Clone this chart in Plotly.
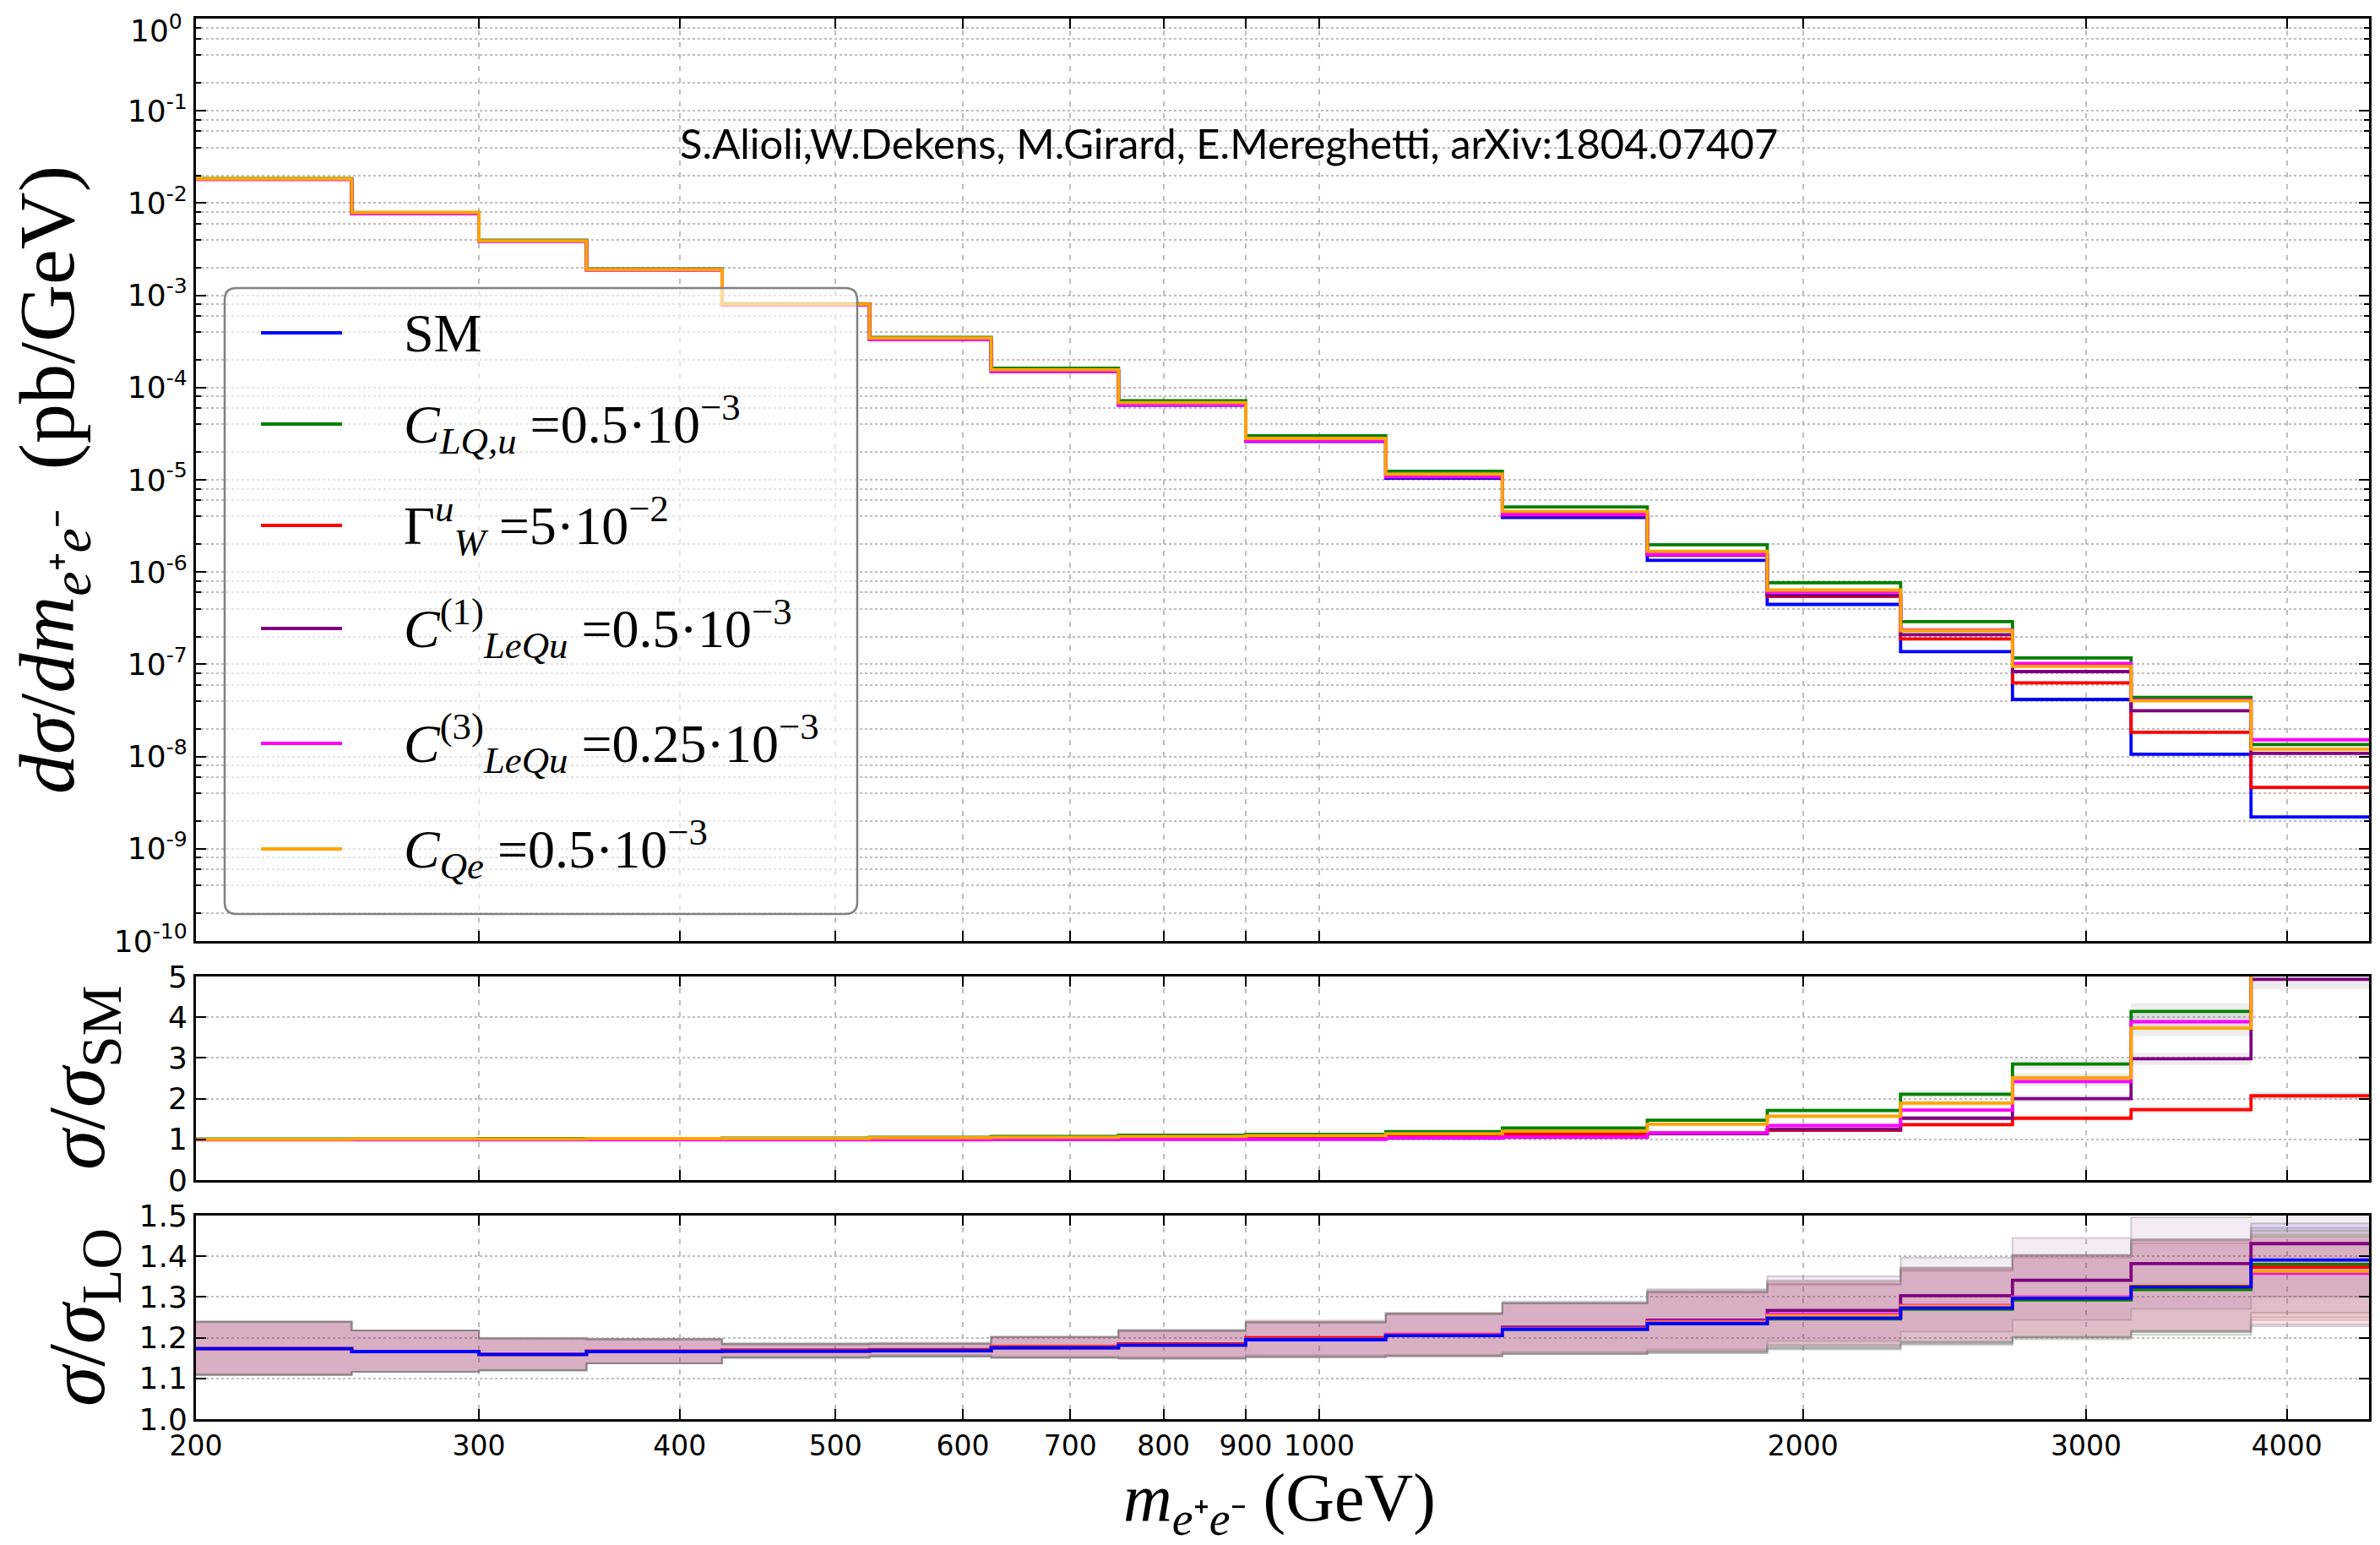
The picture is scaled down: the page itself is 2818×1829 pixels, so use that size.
import plotly.graph_objects as go

# ---------------- data ----------------
edges = [200, 250, 300, 350, 425, 525, 625, 750, 900, 1100, 1300, 1600, 1900, 2300, 2700, 3200, 3800, 4500]

series_names = [
    "SM",
    "<i>C</i><sub><i>LQ,u</i></sub> =0.5·10<sup>−3</sup>",
    "Γ<sup><i>u</i></sup><sub><i>W</i></sub> =5·10<sup>−2</sup>",
    "<i>C</i><sup>(1)</sup><sub><i>LeQu</i></sub> =0.5·10<sup>−3</sup>",
    "<i>C</i><sup>(3)</sup><sub><i>LeQu</i></sub> =0.25·10<sup>−3</sup>",
    "<i>C</i><sub><i>Qe</i></sub> =0.5·10<sup>−3</sup>",
]
series_colors = ["#0000ff", "#008000", "#ff0000", "#800080", "#ff00ff", "#ffa500"]

# top panel: dsigma/dm (pb/GeV)
dsig_sm = [0.0182, 0.0078, 0.0039, 0.0019, 8.0e-4, 3.35e-4, 1.5e-4, 6.45e-5, 2.6e-5, 1.04e-5, 3.9e-6, 1.34e-6, 4.46e-7, 1.37e-7, 4.16e-8, 1.06e-8, 2.21e-9]
dsig_clqu = [0.0184, 0.0079, 0.00395, 0.00193, 8.1e-4, 3.5e-4, 1.62e-4, 7.2e-5, 3.0e-5, 1.24e-5, 5.09e-6, 1.98e-6, 7.66e-7, 2.9e-7, 1.17e-7, 4.36e-8, 1.35e-8]
dsig_gw = [0.0182, 0.0078, 0.0039, 0.0019, 8.0e-4, 3.36e-4, 1.52e-4, 6.7e-5, 2.74e-5, 1.13e-5, 4.35e-6, 1.55e-6, 5.45e-7, 1.88e-7, 6.3e-8, 1.83e-8, 4.62e-9]
dsig_c1 = [0.0181, 0.0077, 0.00385, 0.00188, 7.9e-4, 3.33e-4, 1.5e-4, 6.5e-5, 2.63e-5, 1.07e-5, 4.1e-6, 1.52e-6, 5.58e-7, 2.09e-7, 8.34e-8, 3.14e-8, 1.08e-8]
dsig_c3 = [0.0181, 0.0077, 0.00385, 0.00188, 7.9e-4, 3.32e-4, 1.5e-4, 6.5e-5, 2.65e-5, 1.08e-5, 4.2e-6, 1.55e-6, 6.08e-7, 2.36e-7, 1.02e-7, 4.1e-8, 1.52e-8]
dsig_cqe = [0.0183, 0.0079, 0.0039, 0.0019, 8.0e-4, 3.45e-4, 1.56e-4, 6.86e-5, 2.81e-5, 1.15e-5, 4.55e-6, 1.68e-6, 6.38e-7, 2.32e-7, 9.5e-8, 4.02e-8, 1.2e-8]

# middle panel: sigma / sigma_SM (SM itself not drawn)
rsm_clqu = [1.01, 1.01, 1.02, 1.02, 1.03, 1.05, 1.07, 1.10, 1.12, 1.19, 1.28, 1.47, 1.71, 2.11, 2.85, 4.14, 6.3]
rsm_gw = [1.0, 1.0, 1.0, 1.0, 1.01, 1.01, 1.02, 1.04, 1.06, 1.09, 1.12, 1.16, 1.22, 1.36, 1.52, 1.73, 2.07]
rsm_c1 = [1.0, 1.0, 1.0, 1.0, 1.0, 1.0, 1.0, 1.01, 1.01, 1.03, 1.05, 1.14, 1.25, 1.52, 2.0, 2.98, 4.93]
rsm_c3 = [0.99, 0.99, 0.99, 0.99, 0.99, 0.99, 1.0, 1.0, 1.0, 1.04, 1.06, 1.16, 1.34, 1.72, 2.42, 3.89, 6.9]
rsm_cqe = [1.0, 1.01, 1.01, 1.02, 1.02, 1.04, 1.05, 1.07, 1.09, 1.14, 1.20, 1.37, 1.57, 1.89, 2.51, 3.73, 5.4]

# lower panel: sigma / sigma_LO
k_sm = [1.173, 1.166, 1.159, 1.166, 1.167, 1.168, 1.175, 1.182, 1.195, 1.205, 1.221, 1.235, 1.248, 1.273, 1.297, 1.325, 1.391]
k_clqu = [1.173, 1.166, 1.159, 1.166, 1.167, 1.168, 1.175, 1.182, 1.195, 1.205, 1.221, 1.234, 1.246, 1.270, 1.293, 1.318, 1.380]
k_gw = [1.173, 1.166, 1.160, 1.167, 1.170, 1.171, 1.178, 1.185, 1.200, 1.208, 1.222, 1.237, 1.250, 1.275, 1.298, 1.325, 1.373]
k_c1 = [1.173, 1.166, 1.159, 1.166, 1.167, 1.168, 1.175, 1.183, 1.197, 1.207, 1.226, 1.243, 1.267, 1.303, 1.341, 1.382, 1.431]
k_c3 = [1.173, 1.166, 1.159, 1.166, 1.167, 1.168, 1.175, 1.182, 1.196, 1.207, 1.223, 1.240, 1.257, 1.279, 1.300, 1.328, 1.358]
k_cqe = [1.173, 1.166, 1.159, 1.166, 1.167, 1.168, 1.175, 1.182, 1.196, 1.206, 1.222, 1.238, 1.254, 1.277, 1.298, 1.328, 1.363]

# scale-uncertainty band offsets for sigma/sigma_LO (absolute, below / above central)
k_band_lo = [0.064, 0.050, 0.039, 0.029, 0.016, 0.014, 0.024, 0.033, 0.043, 0.051, 0.061, 0.072, 0.075, 0.088, 0.097, 0.111, 0.130]
k_band_hi = [0.066, 0.052, 0.039, 0.030, 0.017, 0.017, 0.026, 0.035, 0.042, 0.053, 0.063, 0.076, 0.084, 0.094, 0.104, 0.114, 0.090]
# relative band half width in the top and middle panels
rel_band = [0.01, 0.01, 0.01, 0.01, 0.01, 0.015, 0.015, 0.02, 0.02, 0.025, 0.03, 0.03, 0.035, 0.04, 0.045, 0.05, 0.05]

y_tickvals = [10.0 ** e for e in range(-10, 1)]
y_ticktext = ["10<sup>%d</sup>" % e for e in range(-10, 0)] + [""]
y_top_label = "10<sup>0</sup>"
x_tickvals = [200, 300, 400, 500, 600, 700, 800, 900, 1000, 2000, 3000, 4000]
x_ticktext = ["200", "300", "400", "500", "600", "700", "800", "900", "1000", "2000", "3000", "4000"]

title_text = "S.Alioli,W.Dekens, M.Girard, E.Mereghetti, arXiv:1804.07407"

dsig = [dsig_sm, dsig_clqu, dsig_gw, dsig_c1, dsig_c3, dsig_cqe]
rsm = [None, rsm_clqu, rsm_gw, rsm_c1, rsm_c3, rsm_cqe]
kfac = [k_sm, k_clqu, k_gw, k_c1, k_c3, k_cqe]

# ---------------- figure ----------------
W, H = 2818, 1829
fig = go.Figure()


def step(v):
    return list(v) + [v[-1]]


def rgba(hexc, a):
    h = hexc.lstrip("#")
    return "rgba(%d,%d,%d,%.3f)" % (int(h[0:2], 16), int(h[2:4], 16), int(h[4:6], 16), a)


band_gray = "rgba(128,128,128,0.14)"

# top panel bands + lines
for i in range(6):
    lo = [v * (1 - r) for v, r in zip(dsig[i], rel_band)]
    hi = [v * (1 + r) for v, r in zip(dsig[i], rel_band)]
    fig.add_trace(go.Scatter(x=edges, y=step(lo), mode="lines", line=dict(width=0, shape="hv"),
                             showlegend=False, hoverinfo="skip", xaxis="x", yaxis="y"))
    fig.add_trace(go.Scatter(x=edges, y=step(hi), mode="lines", line=dict(width=0, shape="hv"),
                             fill="tonexty", fillcolor=band_gray, showlegend=False, hoverinfo="skip",
                             xaxis="x", yaxis="y"))
for i in range(6):
    fig.add_trace(go.Scatter(x=edges, y=step(dsig[i]), mode="lines", name=series_names[i],
                             showlegend=False,
                             line=dict(color=series_colors[i], width=3.8, shape="hv"),
                             xaxis="x", yaxis="y"))

# middle panel
for i in range(1, 6):
    lo = [v * (1 - r) for v, r in zip(rsm[i], rel_band)]
    hi = [v * (1 + r) for v, r in zip(rsm[i], rel_band)]
    fig.add_trace(go.Scatter(x=edges, y=step(lo), mode="lines", line=dict(width=0, shape="hv"),
                             showlegend=False, hoverinfo="skip", xaxis="x2", yaxis="y2"))
    fig.add_trace(go.Scatter(x=edges, y=step(hi), mode="lines", line=dict(width=0, shape="hv"),
                             fill="tonexty", fillcolor=band_gray, showlegend=False, hoverinfo="skip",
                             xaxis="x2", yaxis="y2"))
for i in range(1, 6):
    fig.add_trace(go.Scatter(x=edges, y=step(rsm[i]), mode="lines", showlegend=False,
                             name=series_names[i],
                             line=dict(color=series_colors[i], width=3.8, shape="hv"),
                             xaxis="x2", yaxis="y2"))

# lower panel
for i in range(6):
    lo = [v - d for v, d in zip(kfac[i], k_band_lo)]
    hi = [v + d for v, d in zip(kfac[i], k_band_hi)]
    fig.add_trace(go.Scatter(x=edges, y=step(lo), mode="lines",
                             line=dict(width=2, shape="hv", color="rgba(128,128,128,0.35)"),
                             showlegend=False, hoverinfo="skip", xaxis="x3", yaxis="y3"))
    fig.add_trace(go.Scatter(x=edges, y=step(hi), mode="lines",
                             line=dict(width=2, shape="hv", color="rgba(128,128,128,0.35)"),
                             fill="tonexty", fillcolor=rgba(series_colors[i], 0.08),
                             showlegend=False, hoverinfo="skip", xaxis="x3", yaxis="y3"))
for i in [1, 2, 3, 4, 5, 0]:
    fig.add_trace(go.Scatter(x=edges, y=step(kfac[i]), mode="lines", showlegend=False,
                             name=series_names[i],
                             line=dict(color=series_colors[i], width=3.8, shape="hv"),
                             xaxis="x3", yaxis="y3"))

# ---------------- layout ----------------
tick_font = dict(family="DejaVu Sans", size=36, color="black")
xtick_font = dict(family="DejaVu Sans", size=33, color="black")
grid_col = "#bdbdbd"
xdom = [232 / W, 2805 / W]


def pdom(top_px, bot_px):
    return [1 - bot_px / H, 1 - top_px / H]


xcommon = dict(type="log", range=[2.30103, 3.65321], domain=xdom, showline=True, linewidth=3,
               linecolor="black", mirror="ticks", ticks="inside", ticklen=12, tickwidth=2,
               tickcolor="black", tickmode="array", tickvals=x_tickvals, ticktext=x_ticktext,
               showgrid=True, gridcolor=grid_col, gridwidth=1.5, griddash="6px,8px",
               zeroline=False, tickfont=xtick_font, automargin=False, ticklabeloverflow="allow")

ycommon = dict(showline=True, linewidth=3, linecolor="black", mirror="ticks", ticks="inside",
               ticklen=12, tickwidth=2, tickcolor="black", showgrid=True, gridcolor=grid_col,
               gridwidth=1.5, griddash="dot", zeroline=False, tickfont=tick_font, automargin=False,
               ticklabeloverflow="allow")

minor_vals = [m * 10.0 ** e for e in range(-10, 0) for m in (2, 4, 6, 8)]

fig.update_layout(
    width=W, height=H, margin=dict(l=0, r=0, t=0, b=0, autoexpand=False),
    paper_bgcolor="white", plot_bgcolor="white", showlegend=False,
    xaxis=dict(xcommon, anchor="y", showticklabels=False),
    xaxis2=dict(xcommon, anchor="y2", matches="x", showticklabels=False),
    xaxis3=dict(xcommon, anchor="y3", matches="x", showticklabels=True),
    yaxis=dict(ycommon, type="log", range=[-10, 0], domain=pdom(22, 1114), anchor="x",
               tickmode="array", tickvals=y_tickvals, ticktext=y_ticktext,
               minor=dict(tickmode="array", tickvals=minor_vals, ticks="inside", ticklen=6,
                          tickwidth=1.5, tickcolor="black", showgrid=True, gridcolor=grid_col,
                          gridwidth=1.5, griddash="dot")),
    yaxis2=dict(ycommon, range=[0, 5], domain=pdom(1156, 1397), anchor="x2",
                tickmode="array", tickvals=[0, 1, 2, 3, 4, 5], ticktext=["0", "1", "2", "3", "4", "5"]),
    yaxis3=dict(ycommon, range=[1.0, 1.5], domain=pdom(1439, 1680), anchor="x3",
                tickmode="array", tickvals=[1.0, 1.1, 1.2, 1.3, 1.4, 1.5],
                ticktext=["1.0", "1.1", "1.2", "1.3", "1.4", "1.5"]),
)

# ---- legend box (drawn as shapes + text) ----
def px(x):
    return x / W


def py(y):
    return 1 - y / H


bx0, bx1, by0, by1, rad = 266, 1015, 341, 1082, 14
path = ("M {a},{b} L {c},{b} Q {d},{b} {d},{e} L {d},{f} Q {d},{g} {c},{g} "
        "L {a},{g} Q {h},{g} {h},{f} L {h},{e} Q {h},{b} {a},{b} Z").format(
    a=px(bx0 + rad), b=py(by0), c=px(bx1 - rad), d=px(bx1), e=py(by0 + rad),
    f=py(by1 - rad), g=py(by1), h=px(bx0))
fig.add_shape(type="path", path=path, xref="paper", yref="paper",
              fillcolor="rgba(255,255,255,0.6)", line=dict(color="#808080", width=2.5), layer="above")

legend_rows = [394, 502, 622, 744, 880, 1005]
leg_font = dict(family="Liberation Serif", size=64, color="black")
for i, yr in enumerate(legend_rows):
    fig.add_shape(type="line", xref="paper", yref="paper", x0=px(309), x1=px(405),
                  y0=py(yr), y1=py(yr), line=dict(color=series_colors[i], width=4), layer="above")
    fig.add_annotation(text=series_names[i], x=px(476), y=py(yr), xref="paper", yref="paper",
                       showarrow=False, xanchor="left", yanchor="middle", font=leg_font)

# top tick label of the log axis, placed slightly inside the page
fig.add_annotation(text=y_top_label, x=px(218), y=py(34), xref="paper", yref="paper",
                   showarrow=False, xanchor="right", yanchor="middle", font=tick_font)

fig.add_annotation(text=title_text, x=1455 / W, y=1 - 169 / H, xref="paper", yref="paper",
                   showarrow=False, xanchor="center", yanchor="middle",
                   font=dict(family="Lato", size=49, color="black"))
fig.add_annotation(text="<i>dσ</i>/<i>dm</i><sub><i>e</i>⁺<i>e</i>⁻</sub>  (pb/GeV)",
                   x=62 / W, y=1 - 568 / H, xref="paper", yref="paper", textangle=-90,
                   showarrow=False, xanchor="center", yanchor="middle",
                   font=dict(family="Liberation Serif", size=94, color="black"))
fig.add_annotation(text="<i>σ</i>/<i>σ</i><sub>SM</sub>",
                   x=97 / W, y=1 - 1276 / H, xref="paper", yref="paper", textangle=-90,
                   showarrow=False, xanchor="center", yanchor="middle",
                   font=dict(family="Liberation Serif", size=96, color="black"))
fig.add_annotation(text="<i>σ</i>/<i>σ</i><sub>LO</sub>",
                   x=97 / W, y=1 - 1560 / H, xref="paper", yref="paper", textangle=-90,
                   showarrow=False, xanchor="center", yanchor="middle",
                   font=dict(family="Liberation Serif", size=96, color="black"))
fig.add_annotation(text="<i>m</i><sub><i>e</i>⁺<i>e</i>⁻</sub> (GeV)",
                   x=1515 / W, y=1 - 1779 / H, xref="paper", yref="paper",
                   showarrow=False, xanchor="center", yanchor="middle",
                   font=dict(family="Liberation Serif", size=80, color="black"))

fig.write_html("out.html")
